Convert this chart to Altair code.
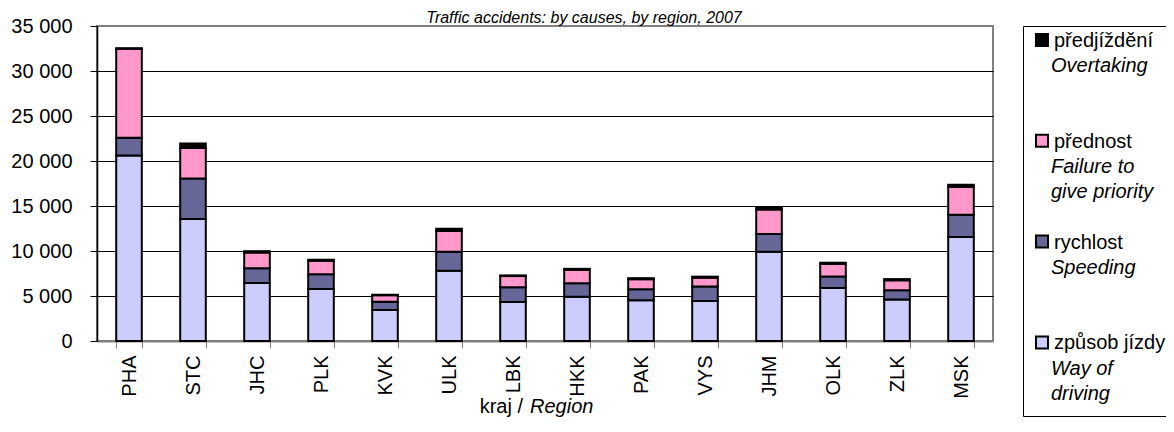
import altair as alt
import pandas as pd

# ---------------- data ----------------
regions = ["PHA", "STC", "JHC", "PLK", "KVK", "ULK", "LBK", "HKK", "PAK", "VYS", "JHM", "OLK", "ZLK", "MSK"]
zpusob = [20610, 13560, 6440, 5780, 3450, 7800, 4330, 4910, 4540, 4440, 9910, 5890, 4620, 11550]
rychlost = [1970, 4490, 1640, 1640, 910, 2110, 1640, 1500, 1200, 1610, 1970, 1280, 1020, 2490]
prednost = [9900, 3390, 1750, 1500, 730, 2300, 1240, 1500, 1130, 990, 2740, 1390, 1100, 3100]
predjizdeni = [60, 500, 150, 110, 50, 250, 80, 110, 110, 110, 190, 140, 140, 220]

causes_cz = ["způsob jízdy", "rychlost", "přednost", "předjíždění"]
causes_en = [["Way of", "driving"], ["Speeding"], ["Failure to", "give priority"], ["Overtaking"]]
cause_colors = ["#CCCCFF", "#666699", "#FF99CC", "#000000"]

y_ticks = [0, 5000, 10000, 15000, 20000, 25000, 30000, 35000]
chart_title = "Traffic accidents: by causes, by region, 2007"
x_title_cz = "kraj /"
x_title_en = "Region"

FONT = "Liberation Sans"

# ---------------- tables ----------------
series = [zpusob, rychlost, prednost, predjizdeni]
rows = []
for k, (name, vals) in enumerate(zip(causes_cz, series)):
    for r, v in zip(regions, vals):
        rows.append({"region": r, "cause": name, "value": v, "order": k})
df = pd.DataFrame(rows)

color_scale = alt.Scale(domain=causes_cz, range=cause_colors)

# legend tables (top to bottom: reverse of stacking order)
leg_sym_rows, leg_cz_rows, leg_en_rows = [], [], []
for i, k in enumerate(reversed(range(len(causes_cz)))):
    slot = 4 * i
    leg_sym_rows.append({"cause": causes_cz[k], "slot": slot})
    leg_cz_rows.append({"label": causes_cz[k], "slot": slot})
    for j, line in enumerate(causes_en[k]):
        leg_en_rows.append({"label": line, "slot": slot + 1 + j})

# ---------------- main chart ----------------
bars = alt.Chart(df).mark_bar(stroke="black", strokeWidth=2).encode(
    x=alt.X(
        "region:N",
        sort=regions,
        scale=alt.Scale(paddingInner=0.6, paddingOuter=0.3),
        axis=alt.Axis(
            title=None,
            labelAngle=-90,
            labelFontSize=20,
            labelFont=FONT,
            labelColor="black",
            labelPadding=7,
            tickBand="extent",
            tickColor="#808080",
            tickSize=7,
            tickWidth=1,
            domainColor="#808080",
            domainWidth=2,
            grid=False,
        ),
    ),
    y=alt.Y(
        "value:Q",
        stack="zero",
        scale=alt.Scale(domain=[0, 35000], nice=False),
        axis=alt.Axis(
            title=None,
            values=y_ticks,
            labelFontSize=20,
            labelFont=FONT,
            labelColor="black",
            labelPadding=18,
            labelExpr="replace(format(datum.value, ','), ',', ' ')",
            domainColor="black",
            domainWidth=1.5,
            tickColor="black",
            tickSize=7,
            tickWidth=1,
            gridColor="black",
            gridWidth=1,
            gridOpacity={"condition": {"test": "datum.value == 0 || datum.value == 35000", "value": 0}, "value": 1},
        ),
    ),
    color=alt.Color("cause:N", scale=color_scale, legend=None),
    order=alt.Order("order:Q", sort="ascending"),
)

title_mark = alt.Chart(pd.DataFrame({"t": [chart_title]})).mark_text(
    align="center", baseline="alphabetic", fontSize=16, font=FONT, fontStyle="italic", color="black"
).encode(text="t:N", x=alt.value(487), y=alt.value(-3))

xt1 = alt.Chart(pd.DataFrame({"t": [x_title_cz]})).mark_text(
    align="right", baseline="alphabetic", fontSize=20, font=FONT, color="black"
).encode(text="t:N", x=alt.value(426), y=alt.value(387))

xt2 = alt.Chart(pd.DataFrame({"t": [x_title_en]})).mark_text(
    align="left", baseline="alphabetic", fontSize=20, font=FONT, fontStyle="italic", color="black"
).encode(text="t:N", x=alt.value(433), y=alt.value(387))

main = alt.layer(bars, title_mark, xt1, xt2).properties(
    width=896,
    height=315,
    view=alt.ViewBackground(stroke="#808080", strokeWidth=2, fill="white"),
)

# ---------------- legend ----------------
leg_y = alt.Y("slot:Q", scale=alt.Scale(domain=[-0.83, 14.64], reverse=True, nice=False, zero=False), axis=None)

leg_sym = alt.Chart(pd.DataFrame(leg_sym_rows)).mark_square(
    size=144, stroke="black", strokeWidth=2, opacity=1, yOffset=-7
).encode(
    x=alt.value(19),
    y=leg_y,
    fill=alt.Fill("cause:N", scale=color_scale, legend=None),
)

leg_cz = alt.Chart(pd.DataFrame(leg_cz_rows)).mark_text(
    align="left", baseline="alphabetic", fontSize=20, font=FONT, color="black"
).encode(x=alt.value(31), y=leg_y, text="label:N")

leg_en = alt.Chart(pd.DataFrame(leg_en_rows)).mark_text(
    align="left", baseline="alphabetic", fontSize=20, font=FONT, fontStyle="italic", color="black"
).encode(x=alt.value(28), y=leg_y, text="label:N")

legend = alt.layer(leg_sym, leg_cz, leg_en).properties(
    width=143,
    height=390,
    view=alt.ViewBackground(stroke="black", strokeWidth=1, fill="white"),
)

chart = alt.hconcat(main, legend, spacing=28).properties(
    autosize=alt.AutoSizeParams(type="none"),
    padding={"left": 89, "top": 18, "right": 1069, "bottom": 392},
).configure(font=FONT).resolve_scale(y="independent")

chart.save("out.html", embed_options={"renderer": "svg", "actions": False})
